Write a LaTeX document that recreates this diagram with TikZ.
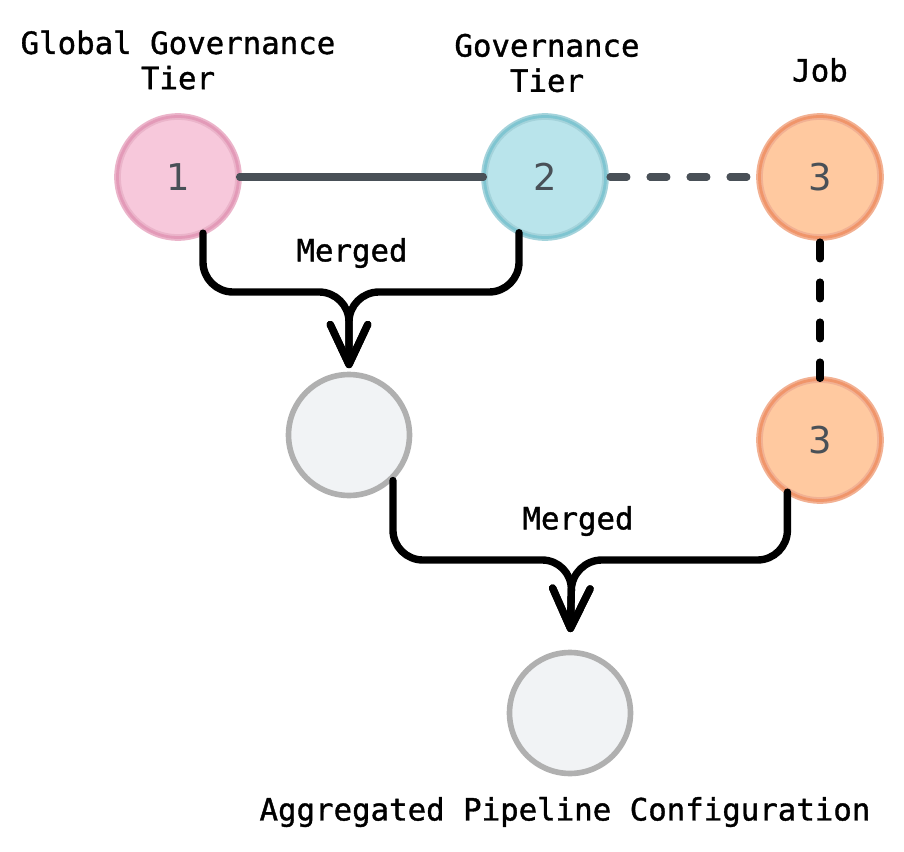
\documentclass[tikz,border=0pt]{standalone}
\usepackage{fontspec}
\setmainfont{DejaVu Sans Mono}[FakeBold=1.2]
\newfontfamily\digitfont{DejaVu Sans}
\usetikzlibrary{arrows.meta,
                positioning}
\definecolor{pinkfill}{HTML}{F7C8DB}
\definecolor{pinkline}{HTML}{E39AB8}
\definecolor{pinkhalo}{HTML}{EBB4CA}
\definecolor{cyanfill}{HTML}{B9E4EB}
\definecolor{cyanline}{HTML}{7FC5D1}
\definecolor{cyanhalo}{HTML}{A4D3DB}
\definecolor{orangefill}{HTML}{FFC9A0}
\definecolor{orangeline}{HTML}{F0956A}
\definecolor{orangehalo}{HTML}{F2B193}
\definecolor{grayfill}{HTML}{F1F3F5}
\definecolor{grayline}{HTML}{B0B0B0}
\definecolor{linkgray}{HTML}{495057}

\begin{document}
\begin{tikzpicture}[x=0.02cm, y=-0.02cm,
                    tier/.style={circle, minimum size=2.42cm, inner sep=0,
                                 line width=1.1pt, double distance=1.6pt,
                                 text=linkgray, font=\digitfont\fontsize{21}{25}\selectfont},
                    pinktier/.style={tier, fill=pinkfill, draw=pinkhalo, double=pinkline},
                    cyantier/.style={tier, fill=cyanfill, draw=cyanhalo, double=cyanline},
                    orangetier/.style={tier, fill=orangefill, draw=orangehalo, double=orangeline},
                    result/.style={circle, minimum size=2.42cm, inner sep=0,
                                   fill=grayfill, draw=grayline, line width=3.2pt},
                    caption/.style={align=center, font=\fontsize{17.5}{20}\selectfont},
                    link/.style={line width=4pt, linkgray, line cap=round},
                    dlink/.style={link, dash pattern=on 0.34cm off 0.46cm},
                    merge/.style={line width=4.2pt, line cap=round, rounded corners=0.6cm,
                                  -{Straight Barb[length=0.8cm, width=0.75cm, round]}}
                    ]
    \useasboundingbox (0,0) rectangle (904,852);

    % tier nodes
    \node[pinktier]   at (178,177) (n1)  {1};
    \node[cyantier]   at (545,177) (n2)  {2};
    \node[orangetier] at (820,177) (n3)  {3};
    \node[orangetier] at (820,440) (n3b) {3};

    % merged configurations
    \node[result] at (349,435) (agg1) {};
    \node[result] at (570,713) (agg2) {};

    % captions
    \node[caption] at (178,60)  (globlbl) {Global Governance\\Tier};
    \node[caption] at (547,63)  (govlbl)  {Governance\\Tier};
    \node[caption] at (820,70)  (joblbl)  {Job};
    \node[caption] at (352,253) (mrglbl)  {Merged};
    \node[caption] at (578,521) (mrglblb) {Merged};
    \node[caption] at (565,812) (agglbl)  {Aggregated Pipeline Configuration};

    % links between tiers
    \draw[link]  (n1.east)  -- (n2.west);
    \draw[dlink, shorten <=2pt, shorten >=2pt] (n2.east) -- (n3.west);
    \draw[dlink, black, shorten <=2pt, shorten >=0pt] (n3.south) -- (n3b.north);

    % merge arrows
    \coordinate (m1) at (349,292);
    \coordinate (m2) at (572,560);
    \draw[merge, shorten >=2pt] (n1.-66)   |- (m1) -- (agg1.north);
    \draw[merge, shorten >=2pt] (n2.-115)  |- (m1) -- (agg1.north);
    \draw[merge, shorten >=10pt] (agg1.-46) |- (m2) -- (agg2.north);
    \draw[merge, shorten >=10pt] (n3b.-122) |- (m2) -- (agg2.north);

\end{tikzpicture}
\end{document}
